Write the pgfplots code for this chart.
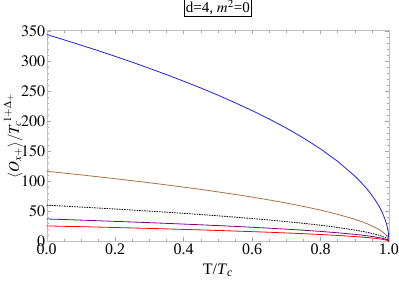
\documentclass[border=0pt]{standalone}
\usepackage{mathptmx}
\usepackage{fontspec}
\setmainfont{Liberation Serif}
\usepackage{pgfplots}
\usepackage{pgfplotstable}
\pgfplotsset{compat=1.18}
\definecolor{cblue}{RGB}{30,30,255}
\definecolor{cbrown}{RGB}{170,115,65}
\definecolor{cpurple}{RGB}{128,0,128}
\definecolor{cred}{RGB}{255,0,0}
\pgfplotstableread{
t blue brown dash purple red
0 345 117 60.5 37.5 26
0.05 336.3 114.0 59.0 36.6 25.3
0.1 327.3 111.0 57.4 35.6 24.7
0.15 318.1 107.9 55.8 34.6 24.0
0.2 308.6 104.6 54.1 33.5 23.3
0.25 298.8 101.3 52.4 32.5 22.5
0.3 288.6 97.9 50.6 31.4 21.8
0.35 278.1 94.3 48.8 30.2 21.0
0.4 267.2 90.6 46.9 29.0 20.1
0.45 255.9 86.8 44.9 27.8 19.3
0.5 244.0 82.7 42.8 26.5 18.4
0.55 231.4 78.5 40.6 25.2 17.4
0.6 218.2 74.0 38.3 23.7 16.4
0.65 204.1 69.2 35.8 22.2 15.4
0.7 189.0 64.1 33.1 20.5 14.2
0.75 172.5 58.5 30.3 18.8 13.0
0.8 154.3 52.3 27.1 16.8 11.6
0.85 133.6 45.3 23.4 14.5 10.1
0.9 109.1 37.0 19.1 11.9 8.2
0.92 97.6 33.1 17.1 10.6 7.4
0.94 84.5 28.7 14.8 9.2 6.4
0.96 69.0 23.4 12.1 7.5 5.2
0.97 59.8 20.3 10.5 6.5 4.5
0.98 48.8 16.5 8.6 5.3 3.7
0.99 34.5 11.7 6.1 3.8 2.6
0.995 24.4 8.3 4.3 2.7 1.8
0.998 15.4 5.2 2.7 1.7 1.2
1 0 0 0 0 0
}\datatab
\begin{document}
\begin{tikzpicture}
\begin{axis}[
  scale only axis,
  width=342pt, height=211pt,
  xmin=0, xmax=1, ymin=0, ymax=352,
  xtick={0,0.2,0.4,0.6,0.8,1.0},
  xticklabels={0.0,0.2,0.4,0.6,0.8,1.0},
  ytick={0,50,100,150,200,250,300,350},
  minor x tick num=3,
  minor y tick num=4,
  axis line style={black!25},
  every tick/.style={black!35},
  major tick length=4pt,
  minor tick length=2.2pt,
  tick align=inside,
  tick label style={font=\fontsize{16}{18}\selectfont},
  xticklabel style={inner sep=1pt, yshift=-1pt},
  yticklabel style={inner sep=1.5pt},
  xlabel={T/\textit{T}\textsubscript{\textit{c}}},
  ylabel={$\langle O_{x+}\rangle/T_c^{\,1+\Delta_+}$},
  xlabel style={font=\fontsize{16}{18}\selectfont, at={(rel axis cs:0.5,0)}, anchor=north, yshift=-19pt},
  ylabel style={font=\fontsize{15}{17}\selectfont, inner sep=0pt, at={(rel axis cs:0,0.5)}, anchor=south, yshift=24pt},
  title={d=4, $m^2$=0},
  title style={draw=black, fill=white, inner sep=1.5pt, font=\fontsize{15}{17}\selectfont,
    at={(rel axis cs:0.5,1)}, anchor=south, yshift=7.5pt},
  clip=true,
]
\coordinate (ll) at (rel axis cs:0,0);
\coordinate (ur) at (rel axis cs:1,1);
\addplot[cblue, line width=0.8pt] table[x=t, y=blue] {\datatab};
\addplot[cbrown, line width=0.8pt] table[x=t, y=brown] {\datatab};
\addplot[black, line width=0.8pt, dash pattern=on 1.5pt off 1pt] table[x=t, y=dash] {\datatab};
\addplot[cpurple, line width=0.8pt] table[x=t, y=purple] {\datatab};
\addplot[cred, line width=0.8pt] table[x=t, y=red] {\datatab};
\end{axis}
\pgfresetboundingbox
\path[use as bounding box] ([xshift=-46.7pt,yshift=-42.5pt]ll) rectangle ([xshift=10pt,yshift=30.3pt]ur);
\end{tikzpicture}
\end{document}
